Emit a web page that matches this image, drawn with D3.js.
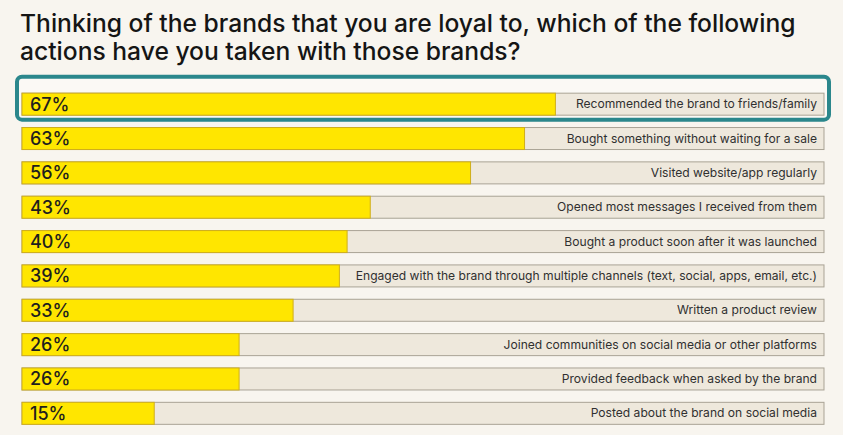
<!DOCTYPE html>
<html><head><meta charset="utf-8">
<script src="https://cdn.jsdelivr.net/npm/d3@7"></script>
<style>
html,body{margin:0;padding:0;background:#f8f5ef;}
svg{display:block;}
</style></head>
<body>
<svg id="chart" width="843" height="435"></svg>
<script>
const titleLines = ["Thinking of the brands that you are loyal to, which of the following", "actions have you taken with those brands?"];
const categories = [
  "Recommended the brand to friends/family",
  "Bought something without waiting for a sale",
  "Visited website/app regularly",
  "Opened most messages I received from them",
  "Bought a product soon after it was launched",
  "Engaged with the brand through multiple channels (text, social, apps, email, etc.)",
  "Written a product review",
  "Joined communities on social media or other platforms",
  "Provided feedback when asked by the brand",
  "Posted about the brand on social media"
];
const values = [67, 63, 56, 43, 40, 39, 33, 26, 26, 15];
const highlighted = [0];

const svg = d3.select("#chart");
const W = 843, H = 435;
svg.append("rect").attr("width", W).attr("height", H).attr("fill", "#f8f5ef");

// title
const title = svg.append("g").attr("font-family", "Inter, 'Open Sans', sans-serif")
  .attr("font-weight", 500).attr("fill", "#151515");
const tSize = 22;
titleLines.forEach((t, i) => {
  title.append("text").attr("x", 20).attr("y", 32 + i * 28)
    .attr("font-size", tSize).text(t);
});
const firstLen = title.select("text").node().getComputedTextLength();
const fs = tSize * 776 / firstLen;
title.selectAll("text").attr("font-size", fs);

const trackL = 22, trackR = 824;
const x = d3.scaleLinear().domain([0, 100]).range([38.5, 810]);
const y = d3.scaleBand().domain(categories).range([86.5, 430]).paddingInner(0.36).paddingOuter(0.18);
const bh = 22;

const boxLayer = svg.append("g");
const rows = svg.append("g").selectAll("g").data(categories).join("g")
  .attr("transform", d => `translate(0,${y(d) + y.bandwidth() / 2 - bh / 2})`);

highlighted.forEach(i => {
  const c = categories[i];
  const top = y(c) + y.bandwidth() / 2 - bh / 2;
  boxLayer.append("rect")
    .attr("x", 17).attr("y", top - 16).attr("width", 812).attr("height", bh + 21)
    .attr("rx", 5).attr("fill", "#fbf9f5").attr("stroke", "#2b878c").attr("stroke-width", 4);
});

rows.append("rect").attr("x", trackL).attr("y", 0.5).attr("width", trackR - trackL).attr("height", bh)
  .attr("fill", "#eee8dc").attr("stroke", "#a9a395").attr("stroke-width", 1);
rows.append("rect").attr("x", trackL).attr("y", 0.5)
  .attr("width", (d, i) => x(values[i]) - trackL).attr("height", bh)
  .attr("fill", "#ffe600").attr("stroke", "#cfae1c").attr("stroke-width", 1);
rows.append("text").attr("x", 30).attr("y", bh / 2 + 7)
  .attr("font-family", "Inter, sans-serif").attr("font-weight", 500).attr("font-size", 18)
  .attr("fill", "#1e1e1e").text((d, i) => values[i] + "%");
rows.append("text").attr("x", 817).attr("y", bh / 2 + 4.5).attr("text-anchor", "end")
  .attr("font-family", "Inter, sans-serif").attr("font-size", 12.1)
  .attr("fill", "#303030").text(d => d);
</script>
</body></html>
